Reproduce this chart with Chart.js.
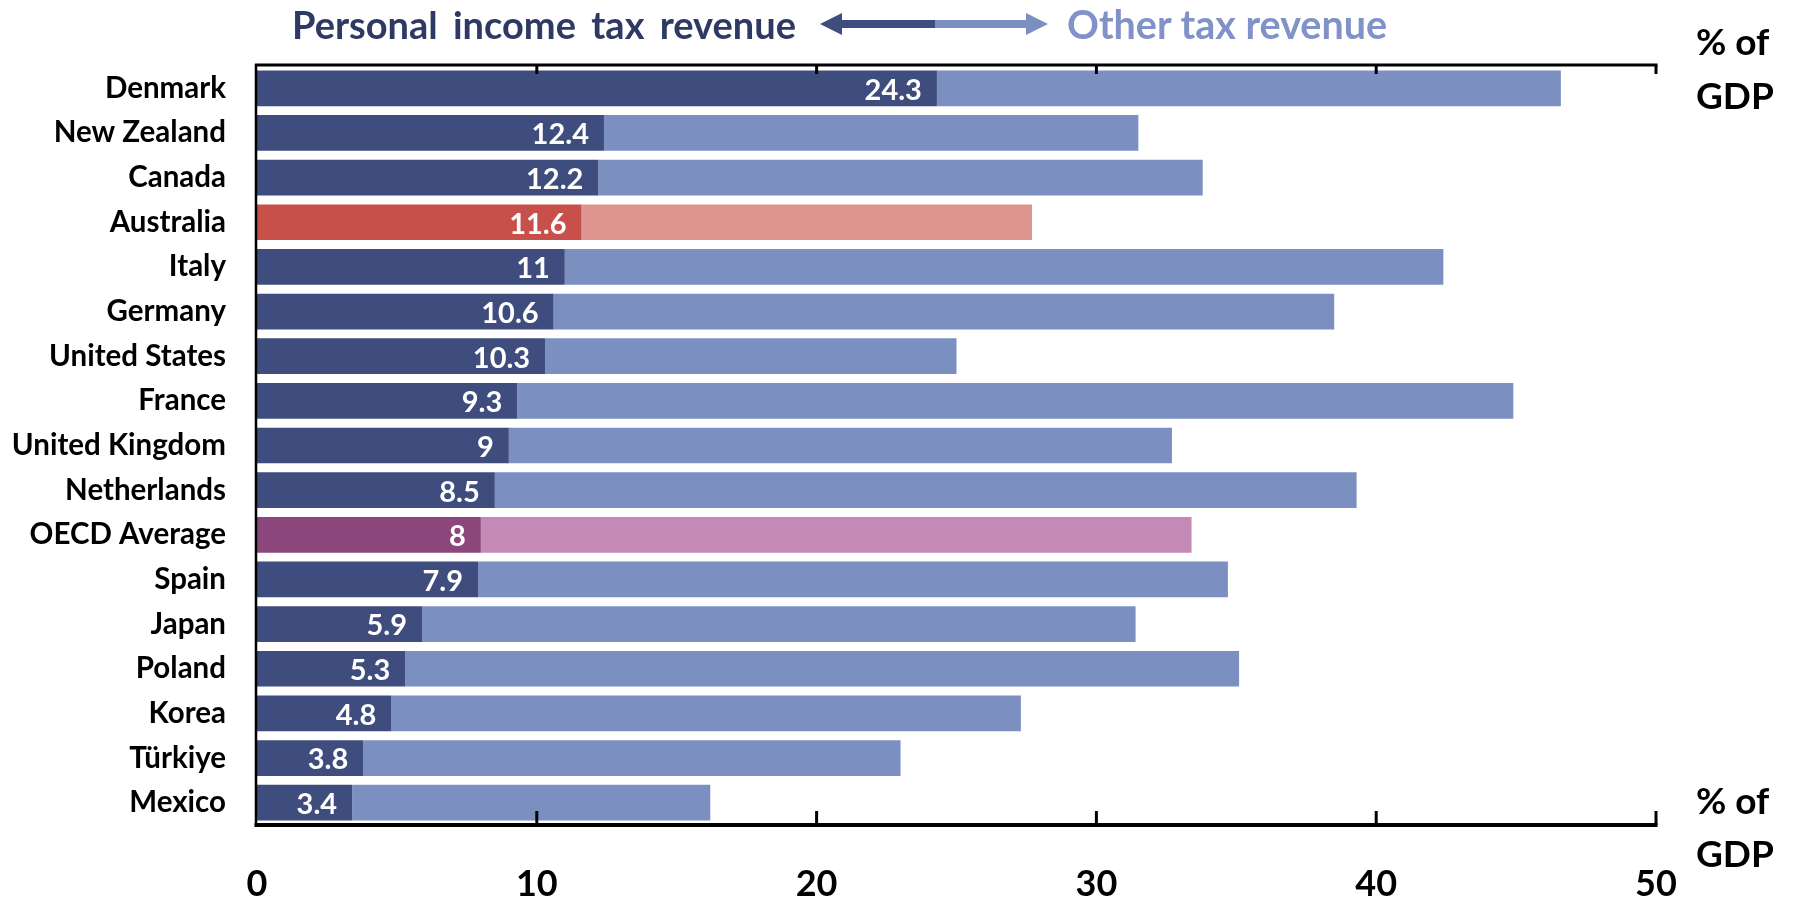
<!DOCTYPE html>
<html>
<head>
<meta charset="UTF-8">
<title>Personal income tax vs other tax revenue</title>
<script src="https://cdn.jsdelivr.net/npm/chart.js"></script>
<style>
  html, body { margin: 0; padding: 0; background: #fff; }
  #wrap { position: relative; width: 1794px; height: 899px; font-family: Lato, "Open Sans", sans-serif; font-weight: 700; }
  #chart { position: absolute; left: 0; top: 0; }
  .lbl { position: absolute; white-space: nowrap; line-height: 1; transform: translateY(-50%); }
</style>
</head>
<body>
<div id="wrap">
  <canvas id="chart" width="1794" height="899"></canvas>
  <div class="lbl" style="left:292px; top:24px; font-size:38px; color:#2E3A63; word-spacing:6px">Personal income tax revenue</div>
  <svg style="position:absolute; left:820px; top:12px" width="230" height="24">
    <polygon points="0,12 22,1 22,23" fill="#3E4D7D"/>
    <rect x="21" y="8" width="95" height="8" fill="#3E4D7D"/>
    <rect x="115" y="8" width="92" height="8" fill="#7B8FC0"/>
    <polygon points="206,1 206,23 228,12" fill="#7B8FC0"/>
  </svg>
  <div class="lbl" style="left:1067px; top:24px; font-size:39.5px; color:#8192C8">Other tax revenue</div>
  <div class="lbl" style="left:1696px; top:40px; font-size:37px; color:#000">% of</div>
  <div class="lbl" style="left:1696px; top:94px; font-size:37px; color:#000">GDP</div>
  <div class="lbl" style="left:1696px; top:799px; font-size:37px; color:#000">% of</div>
  <div class="lbl" style="left:1696px; top:852px; font-size:37px; color:#000">GDP</div>
</div>
<script>
// 2019 tax revenue, % of GDP
const countries = ['Denmark', 'New Zealand', 'Canada', 'Australia', 'Italy', 'Germany', 'United States',
  'France', 'United Kingdom', 'Netherlands', 'OECD Average', 'Spain', 'Japan', 'Poland', 'Korea', 'Türkiye', 'Mexico'];
const pitRevenue = [24.3, 12.4, 12.2, 11.6, 11, 10.6, 10.3, 9.3, 9, 8.5, 8, 7.9, 5.9, 5.3, 4.8, 3.8, 3.4];
const totalRevenue = [46.6, 31.5, 33.8, 27.7, 42.4, 38.5, 25.0, 44.9, 32.7, 39.3, 33.4, 34.7, 31.4, 35.1, 27.3, 23.0, 16.2];
const otherRevenue = totalRevenue.map((t, i) => +(t - pitRevenue[i]).toFixed(1));
const xTicks = [0, 10, 20, 30, 40, 50];

const pick = (c, aus, oecd, other) => c === 'Australia' ? aus : c === 'OECD Average' ? oecd : other;
const pitColors = countries.map(c => pick(c, '#C8504A', '#8B477B', '#3E4D7D'));
const otherColors = countries.map(c => pick(c, '#DD958F', '#C489B7', '#7B8FC0'));

// white value labels at the end of the PIT segment
const valueLabels = {
  id: 'valueLabels',
  afterDatasetsDraw(chart) {
    const ctx = chart.ctx;
    ctx.save();
    ctx.fillStyle = '#fff';
    ctx.font = 'bold 29px Lato';
    ctx.textAlign = 'right';
    ctx.textBaseline = 'middle';
    chart.getDatasetMeta(0).data.forEach((bar, i) => {
      ctx.fillText(String(pitRevenue[i]), bar.x - 15, bar.y + 2);
    });
    ctx.restore();
  }
};

// box lines and inward ticks
const frame = {
  id: 'frame',
  afterDraw(chart) {
    const { ctx, chartArea: a, scales: { x } } = chart;
    const line = (x1, y1, x2, y2) => { ctx.beginPath(); ctx.moveTo(x1, y1); ctx.lineTo(x2, y2); ctx.stroke(); };
    ctx.save();
    ctx.strokeStyle = '#000';
    ctx.lineWidth = 3;
    line(a.left - 2, a.top - 1, a.right + 1.5, a.top - 1);
    xTicks.slice(1).forEach(v => {
      const px = x.getPixelForValue(v);
      line(px, a.top - 1, px, a.top + 8);
      line(px, a.bottom, px, a.bottom - 14);
    });
    ctx.lineWidth = 2.5;
    line(a.left - 1, a.top - 2, a.left - 1, a.bottom);
    ctx.lineWidth = 4;
    line(a.left - 2.5, a.bottom, a.right + 1.5, a.bottom);
    ctx.restore();
  }
};

function draw() {
  new Chart(document.getElementById('chart'), {
    type: 'bar',
    data: {
      labels: countries,
      datasets: [
        { label: 'Personal income tax revenue', data: pitRevenue, backgroundColor: pitColors,
          barPercentage: 0.8, categoryPercentage: 1.0 },
        { label: 'Other tax revenue', data: otherRevenue, backgroundColor: otherColors,
          barPercentage: 0.8, categoryPercentage: 1.0 }
      ]
    },
    options: {
      indexAxis: 'y',
      responsive: false,
      animation: false,
      layout: { padding: { top: 66, right: 138, left: 0, bottom: 0 } },
      plugins: { legend: { display: false }, tooltip: { enabled: false } },
      scales: {
        x: {
          stacked: true, min: 0, max: 50,
          ticks: { stepSize: 10, color: '#000', padding: 30, font: { family: 'Lato', weight: 'bold', size: 36 } },
          grid: { display: false }, border: { display: false },
          afterFit: s => { s.height = 74; }
        },
        y: {
          stacked: true,
          ticks: { color: '#000', padding: 23, font: { family: 'Lato', weight: 'bold', size: 29.5 } },
          grid: { display: false }, border: { display: false },
          afterFit: s => { s.width = 257; }
        }
      }
    },
    plugins: [valueLabels, frame]
  });
}

document.fonts.load('bold 28px Lato').then(draw, draw);
</script>
</body>
</html>
